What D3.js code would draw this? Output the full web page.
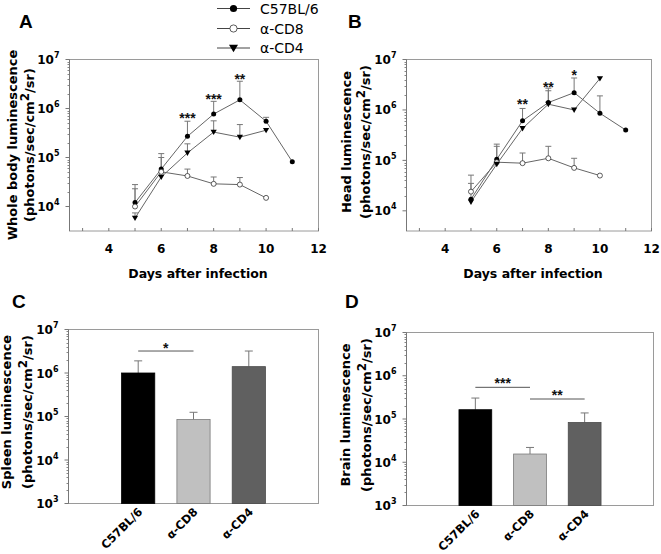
<!DOCTYPE html>
<html><head><meta charset="utf-8">
<script src="https://cdn.jsdelivr.net/npm/d3@7"></script>
<style>
body{margin:0;background:#fff;}
text{font-family:"DejaVu Sans",Verdana,sans-serif;fill:#000;}
</style></head>
<body><svg id="c" width="661" height="554"></svg>
<script>
// ---------- data ----------
const days = [5, 6, 7, 8, 9, 10, 11];
const seriesNames = ["C57BL/6", "α-CD8", "α-CD4"];
// Panel A: whole body
const A_c57 = [1.2e4, 5.8e4, 2.7e5, 7.7e5, 1.5e6, 5.5e5, 8.2e4];
const A_c57_err = [2.8e4, 1.2e5, 5.5e5, 1.4e6, 3.6e6, 6.6e5, null];
const A_cd8 = [1.0e4, 5.1e4, 4.2e4, 2.9e4, 2.8e4, 1.5e4];
const A_cd8_err = [2.3e4, 1.0e5, 5.8e4, 4.0e4, 3.9e4, null];
const A_cd4 = [5.8e3, 4.0e4, 1.24e5, 3.3e5, 2.6e5, 3.6e5];
const A_cd4_err = [7.4e3, null, 1.9e5, 5.6e5, 4.7e5, null];
const A_stars = [[7, "***", 7.3e5], [8, "***", 1.78e6], [9, "**", 4.6e6]];
// Panel B: head
const B_c57 = [1.7e4, 1.05e5, 6.1e5, 1.4e6, 2.2e6, 8.6e5, 4.0e5];
const B_c57_err = [3.5e4, 2.1e5, 1.07e6, 2.7e6, 4.3e6, 1.9e6, null];
const B_cd8 = [2.4e4, 9.2e4, 8.8e4, 1.1e5, 7.1e4, 5.0e4];
const B_cd8_err = [5.1e4, 1.9e5, 1.4e5, 1.9e5, 1.1e5, null];
const B_cd4 = [1.5e4, 8.4e4, 4.3e5, 1.3e6, 1.0e6, 4.2e6];
const B_cd4_err = [null, null, null, 2.4e6, null, null];
const B_stars = [[7, "**", 1.5e6], [8, "**", 3.2e6], [9, "*", 5.6e6]];
// Panel C: spleen
const C_vals = [1.0e6, 8.5e4, 1.4e6];
const C_err = [1.9e6, 1.25e5, 3.2e6];
const C_sig = [[0, 1, "*", 3.2e6, 4.3e6]];
// Panel D: brain
const D_vals = [1.64e5, 1.55e4, 8.3e4];
const D_err = [3.05e5, 2.2e4, 1.38e5];
const D_sig = [[0, 1, "***", 5.4e5, 8.1e5], [1, 2, "**", 2.9e5, 4.1e5]];
const xTicks = [4, 6, 8, 10, 12];
const barColors = ["#000000", "#c0c0c0", "#606060"];
const barStrokes = ["#000000", "#7a7a7a", "#4a4a4a"];

const svg = d3.select("#c");

function frame(g, x0, x1, y0, y1) {
  g.append("rect").attr("x", x0).attr("y", y0).attr("width", x1 - x0).attr("height", y1 - y0)
    .attr("fill", "none").attr("stroke", "#9a9a9a").attr("stroke-width", 1);
}

function logAxis(g, y, x0, lo, hi) {
  for (let e = lo; e < hi; e++) {
    for (let m = 2; m <= 9; m++) {
      const yy = Math.round(y(m * Math.pow(10, e))) + 0.5;
      g.append("line").attr("x1", x0 - 2).attr("x2", x0).attr("y1", yy).attr("y2", yy)
        .attr("stroke", "#888").attr("stroke-width", 1);
    }
  }
  for (let e = lo; e <= hi; e++) {
    const yy = y(Math.pow(10, e));
    g.append("line").attr("x1", x0 - 4).attr("x2", x0).attr("y1", yy).attr("y2", yy)
      .attr("stroke", "#777").attr("stroke-width", 1);
    const t = g.append("text").attr("x", x0 - 10).attr("y", yy + 4.5).attr("text-anchor", "end")
      .attr("font-size", 12).attr("font-weight", "bold");
    t.append("tspan").text("10");
    t.append("tspan").attr("font-size", 8).attr("dy", -6).text(String(e));
  }
  g.append("line").attr("x1", x0).attr("x2", x0).attr("y1", y(Math.pow(10, hi))).attr("y2", y.range()[0])
    .attr("stroke", "#777");
}

function yLabel(g, cx1, cx2, cy, line1) {
  g.append("text").attr("transform", `translate(${cx1},${cy}) rotate(-90)`)
    .attr("text-anchor", "middle").attr("font-size", 13).attr("font-weight", "bold").text(line1);
  const t = g.append("text").attr("transform", `translate(${cx2},${cy}) rotate(-90)`)
    .attr("text-anchor", "middle").attr("font-size", 13).attr("font-weight", "bold");
  t.append("tspan").text("(photons/sec/cm");
  t.append("tspan").attr("dy", -5).attr("font-size", 12).text("2");
  t.append("tspan").attr("dy", 5).text("/sr)");
}

function panelLetter(x, y, s) {
  svg.append("text").attr("x", x).attr("y", y).attr("font-size", 19).attr("font-weight", "bold")
    .style("font-family", "'Liberation Sans', Arial, sans-serif").text(s);
}

function marker(g, type, cx, cy, r) {
  if (type === 0) g.append("circle").attr("cx", cx).attr("cy", cy).attr("r", r).attr("fill", "#000");
  else if (type === 1) g.append("circle").attr("cx", cx).attr("cy", cy).attr("r", r).attr("fill", "#fff").attr("stroke", "#333").attr("stroke-width", 0.8);
  else {
    const s = r * 1.25;
    g.append("path").attr("d", `M${cx - s},${cy - s * 0.75}L${cx + s},${cy - s * 0.75}L${cx},${cy + s * 0.95}Z`).attr("fill", "#000");
  }
}

function starText(g, x, y, s) {
  g.append("text").attr("x", x).attr("y", y).attr("text-anchor", "middle")
    .attr("font-size", 14).attr("font-weight", "bold")
    .style("font-family", "'Liberation Sans', Arial, sans-serif").style("fill", "#111").text(s);
}

function linePanel(opt) {
  const g = svg.append("g");
  const x = d3.scaleLinear().domain([2.5, 12]).range([opt.x0, opt.x1]);
  const y = d3.scaleLog().domain([opt.ymin, 1e7]).range([opt.y1, opt.y0]);
  frame(g, opt.x0, opt.x1, opt.y0, opt.y1);
  for (let d = 3; d <= 12; d++) {
    g.append("line").attr("x1", x(d)).attr("x2", x(d)).attr("y1", opt.y1).attr("y2", opt.y1 - 3).attr("stroke", "#777");
  }
  xTicks.forEach(d => g.append("text").attr("x", x(d)).attr("y", opt.y1 + 22).attr("text-anchor", "middle")
    .attr("font-size", 12).attr("font-weight", "bold").text(d));
  g.append("text").attr("x", (opt.x0 + opt.x1) / 2 + 4).attr("y", opt.y1 + 47).attr("text-anchor", "middle")
    .attr("font-size", 12.5).attr("font-weight", "bold").text("Days after infection");
  logAxis(g, y, opt.x0, 4, 7);
  const line = d3.line().x(d => x(d[0])).y(d => y(d[1]));
  opt.series.forEach((s, i) => {
    const pts = s.vals.map((v, k) => [days[k], v]);
    s.err.forEach((e, k) => {
      if (e == null) return;
      const cx = x(days[k]);
      g.append("line").attr("x1", cx).attr("x2", cx).attr("y1", y(s.vals[k])).attr("y2", y(e)).attr("stroke", "#777");
      g.append("line").attr("x1", cx - 3).attr("x2", cx + 3).attr("y1", y(e)).attr("y2", y(e)).attr("stroke", "#777");
    });
    g.append("path").datum(pts).attr("d", line).attr("fill", "none").attr("stroke", "#666").attr("stroke-width", 1);
  });
  opt.series.forEach((s, i) => {
    s.vals.forEach((v, k) => marker(g, i, x(days[k]), y(v), 2.5));
  });
  opt.stars.forEach(st => starText(g, x(st[0]), y(st[2]) + 8, st[1]));
  return g;
}

function barPanel(opt) {
  const g = svg.append("g");
  const x = d3.scaleBand().domain(seriesNames).range([opt.x0, opt.x1]).paddingInner(0.4).paddingOuter(0.96);
  const y = d3.scaleLog().domain([1e3, 1e7]).range([opt.y1, opt.y0]);
  frame(g, opt.x0, opt.x1, opt.y0, opt.y1);
  logAxis(g, y, opt.x0, 3, 7);
  seriesNames.forEach((n, i) => {
    const cx = x(n) + x.bandwidth() / 2;
    g.append("line").attr("x1", cx).attr("x2", cx).attr("y1", y(opt.vals[i])).attr("y2", y(opt.err[i])).attr("stroke", "#777");
    g.append("line").attr("x1", cx - 4).attr("x2", cx + 4).attr("y1", y(opt.err[i])).attr("y2", y(opt.err[i])).attr("stroke", "#777");
    g.append("rect").attr("x", x(n)).attr("y", y(opt.vals[i])).attr("width", x.bandwidth())
      .attr("height", opt.y1 - y(opt.vals[i])).attr("fill", barColors[i]).attr("stroke", barStrokes[i]).attr("stroke-width", 0.8);
    g.append("text").attr("transform", `translate(${cx + 5},${opt.y1 + 9}) rotate(-45)`)
      .attr("text-anchor", "end").attr("font-size", 11.5).attr("font-weight", "bold").text(n);
  });
  opt.sig.forEach(s => {
    const xa = x(seriesNames[s[0]]) + x.bandwidth() / 2, xb = x(seriesNames[s[1]]) + x.bandwidth() / 2;
    g.append("line").attr("x1", xa).attr("x2", xb).attr("y1", y(s[3])).attr("y2", y(s[3])).attr("stroke", "#555");
    starText(g, (xa + xb) / 2, y(s[4]) + 8, s[2]);
  });
  return g;
}

// Panel A
const gA = linePanel({x0: 69.5, x1: 318.5, y0: 59.5, y1: 231, ymin: Math.pow(10, 3.5),
  series: [{vals: A_c57, err: A_c57_err}, {vals: A_cd8, err: A_cd8_err}, {vals: A_cd4, err: A_cd4_err}],
  stars: A_stars});
yLabel(gA, 17, 34, 145, "Whole body luminescence");
panelLetter(19, 28, "A");
// Panel B
const gB = linePanel({x0: 406.5, x1: 651.5, y0: 59.5, y1: 231, ymin: Math.pow(10, 3.6),
  series: [{vals: B_c57, err: B_c57_err}, {vals: B_cd8, err: B_cd8_err}, {vals: B_cd4, err: B_cd4_err}],
  stars: B_stars});
yLabel(gB, 351, 370, 142, "Head luminescence");
panelLetter(348, 28, "B");
// Panel C
const gC = barPanel({x0: 68.5, x1: 318.5, y0: 329.5, y1: 503.5, vals: C_vals, err: C_err, sig: C_sig});
yLabel(gC, 11, 32, 412, "Spleen luminescence");
panelLetter(12, 308, "C");
// Panel D
const gD = barPanel({x0: 406.5, x1: 653.5, y0: 332.5, y1: 505.5, vals: D_vals, err: D_err, sig: D_sig});
yLabel(gD, 350, 371, 415, "Brain luminescence");
panelLetter(345, 308, "D");

// Legend
const lg = svg.append("g");
[8.5, 28.5, 48].forEach((yy, i) => {
  lg.append("line").attr("x1", 217).attr("x2", 250).attr("y1", yy).attr("y2", yy).attr("stroke", "#444").attr("stroke-width", 1);
  marker(lg, i, 233.5, yy, 3.6);
  lg.append("text").attr("x", 260).attr("y", yy + 5).attr("font-size", 14).text(seriesNames[i]);
});
</script></body></html>
